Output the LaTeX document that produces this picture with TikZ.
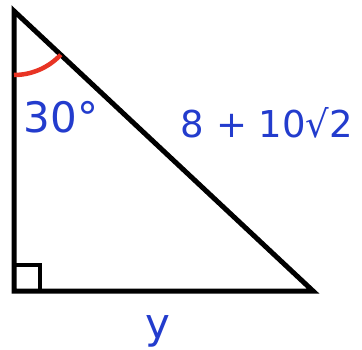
\documentclass[tikz,border=0pt]{standalone}
\usepackage{fontspec}
\setmainfont{DejaVu Sans}
\definecolor{lblblue}{RGB}{35,60,205}
\definecolor{arcred}{RGB}{232,52,36}
\begin{document}
\begin{tikzpicture}[
  x=1pt, y=-1pt,
  side/.style={line width=5pt, line join=miter},
  rightmark/.style={line width=4pt},
  anglearc/.style={draw=arcred, line width=4.5pt},
  lbl/.style={text=lblblue, inner sep=0pt, anchor=base}]
\useasboundingbox (0,0) rectangle (362,349);
% vertices
\coordinate (top) at (14,11);
\coordinate (corner) at (14,291);
\coordinate (right) at (313,291);
\draw[side] (top) -- (corner) -- (right) -- cycle;
\draw[rightmark] ([yshift=26pt]corner) -| ([xshift=26pt]corner);
\draw[anglearc] ([yshift=-64pt]top) arc[start angle=270, end angle=316.9, radius=64pt];
% labels
\node[lbl, font=\fontsize{42}{42}\selectfont] (angle) at (61,132) {30°};
\node[lbl, font=\fontsize{37}{37}\selectfont] (hyp) at (267,137) {8 + 10√2};
\node[lbl, font=\fontsize{42}{42}\selectfont] (base) at (158,338) {y};
\end{tikzpicture}
\end{document}
